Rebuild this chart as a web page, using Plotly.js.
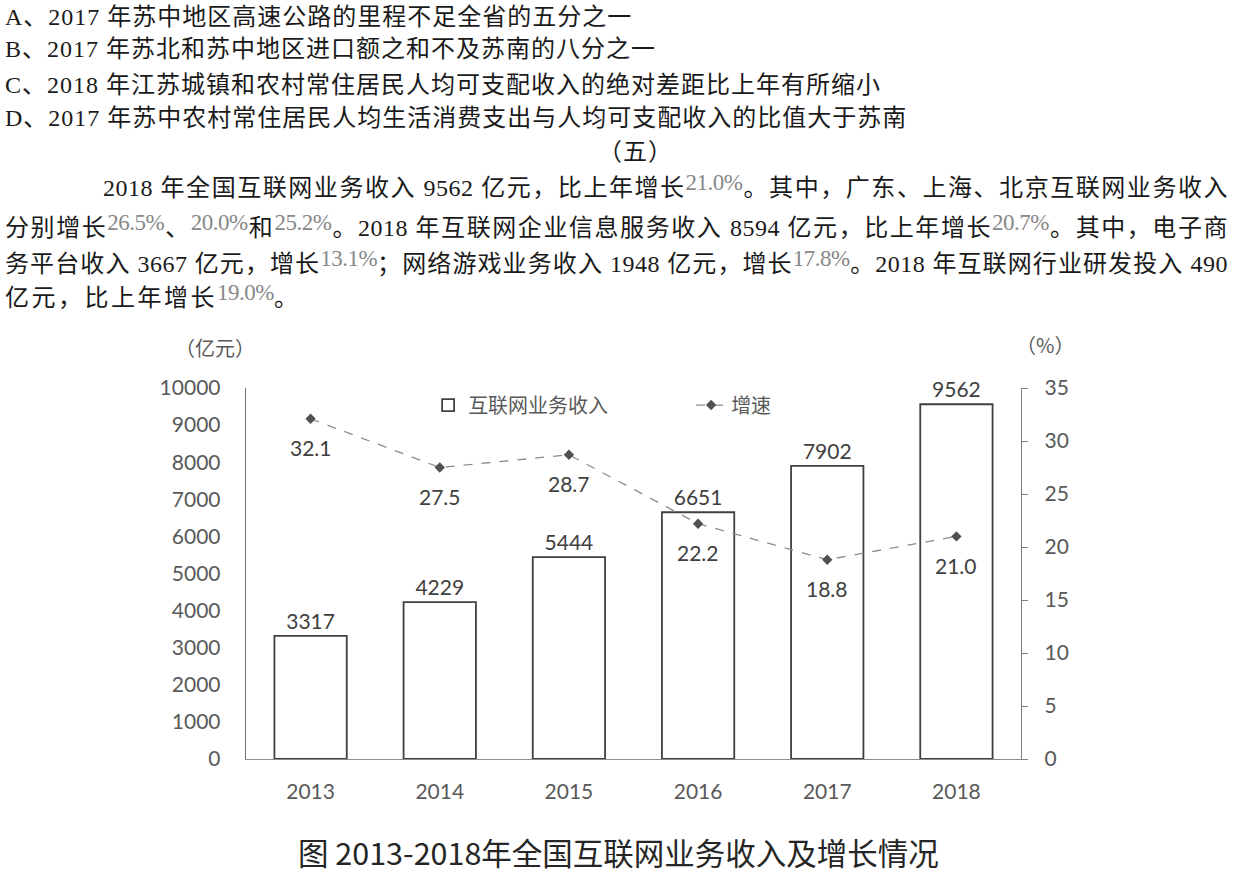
<!DOCTYPE html>
<html><head><meta charset="utf-8">
<script src="https://cdn.plot.ly/plotly-3.0.1.min.js"></script>
<style>
html,body{margin:0;padding:0;background:#fff;width:1237px;height:884px;overflow:hidden;}
#chart{position:absolute;left:0;top:0;width:1237px;height:884px;}
.l{position:absolute;z-index:5;white-space:nowrap;font-family:"Liberation Serif","Noto Sans CJK SC",serif;font-size:24px;line-height:30px;color:#1a1a1a;letter-spacing:1px;}
.j{text-align:justify;text-align-last:justify;letter-spacing:0.5px;}
.p{color:#888888;font-size:23px;position:relative;top:-6px;letter-spacing:-0.5px;font-family:"Liberation Serif",serif;}
</style></head>
<body>
<div class="l" style="left:5px;top:2px;">A、2017 年苏中地区高速公路的里程不足全省的五分之一</div>
<div class="l" style="left:5px;top:34px;">B、2017 年苏北和苏中地区进口额之和不及苏南的八分之一</div>
<div class="l" style="left:5px;top:70px;">C、2018 年江苏城镇和农村常住居民人均可支配收入的绝对差距比上年有所缩小</div>
<div class="l" style="left:5px;top:103px;">D、2017 年苏中农村常住居民人均生活消费支出与人均可支配收入的比值大于苏南</div>
<div class="l" style="left:598px;top:137px;">（五）</div>
<div class="l j" style="left:103px;top:173px;width:1125px;">2018 年全国互联网业务收入 9562 亿元，比上年增长<span class="p">21.0%</span>。其中，广东、上海、北京互联网业务收入</div>
<div class="l j" style="left:5px;top:213px;width:1223px;">分别增长<span class="p">26.5%</span>、<span class="p">20.0%</span>和<span class="p">25.2%</span>。2018 年互联网企业信息服务收入 8594 亿元，比上年增长<span class="p">20.7%</span>。其中，电子商</div>
<div class="l j" style="left:5px;top:249px;width:1223px;">务平台收入 3667 亿元，增长<span class="p">13.1%</span>；网络游戏业务收入 1948 亿元，增长<span class="p">17.8%</span>。2018 年互联网行业研发投入 490</div>
<div class="l" style="left:5px;top:283px;letter-spacing:2.5px;">亿元，比上年增长<span class="p">19.0%</span>。</div>
<div id="chart"></div>
<script>
const years = ['2013','2014','2015','2016','2017','2018'];
const revenue = [3317, 4229, 5444, 6651, 7902, 9562];
const growth = [32.1, 27.5, 28.7, 22.2, 18.8, 21.0];
const growthLabels = ['32.1','27.5','28.7','22.2','18.8','21.0'];
const leftTicks = [0,1000,2000,3000,4000,5000,6000,7000,8000,9000,10000];
const rightTicks = [0,5,10,15,20,25,30,35];
const seriesNames = ['互联网业务收入','增速'];
const leftUnit = '（亿元）';
const rightUnit = '（%）';
const caption = '图 2013-2018年全国互联网业务收入及增长情况';

const numFont = 'Lato, "Open Sans", sans-serif';
const cjkFont = '"Noto Sans CJK SC", sans-serif';

const barTrace = {
  type:'bar', x:years, y:revenue, name:seriesNames[0],
  width:0.56,
  marker:{color:'#ffffff', line:{color:'#404040', width:1.8}},
  text:revenue.map(String), textposition:'outside', cliponaxis:false,
  textfont:{family:numFont, size:21, color:'#404040'},
  hoverinfo:'skip'
};
const lineTrace = {
  type:'scatter', mode:'lines+markers', x:years, y:growth, yaxis:'y2', name:seriesNames[1],
  line:{color:'#8c8c8c', dash:'dash', width:1.3},
  marker:{symbol:'diamond', size:8, color:'#505050'},
  cliponaxis:false, hoverinfo:'skip'
};

const annotations = growthLabels.map((t,i)=>({
  x:i, y:growth[i], xref:'x', yref:'y2', text:t, showarrow:false,
  xanchor:'center', yanchor:'middle',
  yshift:-29, font:{family:numFont, size:21, color:'#404040'}
}));
annotations.push({xref:'paper', yref:'paper', x:-0.04, y:1.108, xanchor:'center', yanchor:'middle',
  text:leftUnit, showarrow:false, font:{family:cjkFont, size:20, color:'#595959'}});
annotations.push({xref:'paper', yref:'paper', x:1.031, y:1.116, xanchor:'center', yanchor:'middle',
  text:rightUnit, showarrow:false, font:{family:cjkFont, size:20, color:'#595959'}});
annotations.push({xref:'paper', yref:'paper', x:0.481, y:-0.252, xanchor:'center', yanchor:'middle',
  text:caption, showarrow:false, font:{family:cjkFont, size:30.5, color:'#262626'}});

const layout = {
  width:1237, height:884,
  margin:{l:246, r:216, t:388, b:125, pad:0},
  paper_bgcolor:'rgba(0,0,0,0)', plot_bgcolor:'rgba(0,0,0,0)',
  showlegend:true,
  legend:{orientation:'h', x:0.235, y:0.954, xanchor:'left', yanchor:'middle',
    entrywidth:218, entrywidthmode:'pixels',
    font:{family:cjkFont, size:20, color:'#595959'}, bgcolor:'rgba(0,0,0,0)', traceorder:'normal'},
  xaxis:{type:'category', range:[-0.5, 5.5], autorange:false, showline:true, linecolor:'#8c8c8c', linewidth:1.3, ticks:'',
    showgrid:false, zeroline:false, ticklabelstandoff:13,
    tickfont:{family:numFont, size:21, color:'#595959'}},
  yaxis:{range:[0,10000], autorange:false, tickvals:leftTicks, tickformat:'d', showline:true, linecolor:'#707070', linewidth:1.3,
    ticks:'', showgrid:false, zeroline:false, ticklabelstandoff:20,
    tickfont:{family:numFont, size:21, color:'#595959'}},
  yaxis2:{range:[0,35], autorange:false, tickvals:rightTicks, tickformat:'d', overlaying:'y', side:'right', showline:true,
    linecolor:'#808080', linewidth:1.3, ticks:'outside', ticklen:6, tickcolor:'#808080',
    showgrid:false, zeroline:false, ticklabelstandoff:12,
    tickfont:{family:numFont, size:21, color:'#595959'}},
  annotations:annotations
};
Plotly.newPlot('chart', [barTrace, lineTrace], layout, {staticPlot:true, displayModeBar:false});
</script>
</body></html>
